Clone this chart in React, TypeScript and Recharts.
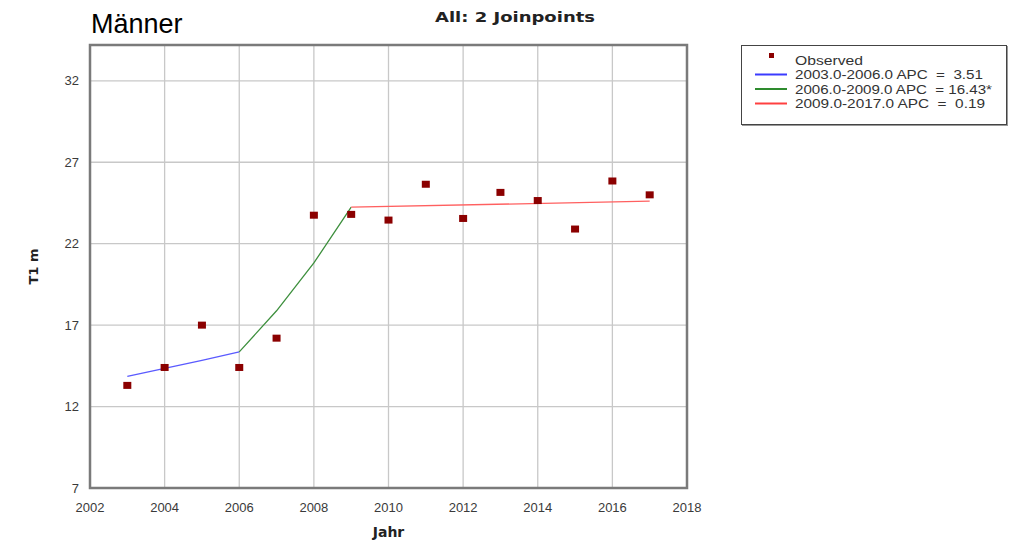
import {
  ComposedChart,
  Line,
  Scatter,
  XAxis,
  YAxis,
  CartesianGrid,
  ReferenceArea,
} from 'recharts';

const years = [2003, 2004, 2005, 2006, 2007, 2008, 2009, 2010, 2011, 2012, 2013, 2014, 2015, 2016, 2017];
const observed = [13.3, 14.4, 17.0, 14.4, 16.2, 23.75, 23.8, 23.45, 25.65, 23.55, 25.15, 24.65, 22.9, 25.85, 25.0];

// joinpoint fitted segments
const seg1Years = [2003, 2004, 2005, 2006];
const seg1Values = [13.85, 14.34, 14.84, 15.36];
const seg2Years = [2006, 2007, 2008, 2009];
const seg2Values = [15.36, 17.88, 20.82, 24.24];
const seg3Years = [2009, 2017];
const seg3Values = [24.24, 24.61];

const xTicks = [2002, 2004, 2006, 2008, 2010, 2012, 2014, 2016, 2018];
const yTicks = [7, 12, 17, 22, 27, 32];

const legendItems = [
  { label: 'Observed', color: '#8b0000', type: 'square', len: 68 },
  { label: '2003.0-2006.0 APC  =  3.51', color: '#3b3bff', type: 'line', len: 188 },
  { label: '2006.0-2009.0 APC  = 16.43*', color: '#2e8b2e', type: 'line', len: 197 },
  { label: '2009.0-2017.0 APC  =  0.19', color: '#ff4040', type: 'line', len: 190 },
];

const observedData = years.map((x, i) => ({ x, y: observed[i] }));
const seg1 = seg1Years.map((x, i) => ({ x, y: seg1Values[i] }));
const seg2 = seg2Years.map((x, i) => ({ x, y: seg2Values[i] }));
const seg3 = seg3Years.map((x, i) => ({ x, y: seg3Values[i] }));

const sans = 'Liberation Sans, Arial, sans-serif';
const boldFont = 'DejaVu Sans, Verdana, sans-serif';
const tickStyle = { fill: '#3a3a3a', fontSize: 13, fontFamily: sans };

const SquareDot = (props: any) => {
  const { cx, cy } = props;
  if (cx == null || cy == null) return null;
  return <rect x={cx - 4} y={cy - 3.5} width={8} height={7} fill="#8b0000" />;
};

// legend box drawn on its own, to the right of the plot
function LegendBox() {
  return (
    <svg width={270} height={84} style={{ position: 'absolute', left: 741, top: 45 }}>
      <rect x={1.5} y={1.5} width={265} height={79} fill="#fff" stroke="#999" strokeWidth={1} />
      <rect x={0.5} y={0.5} width={265} height={79} fill="#fff" stroke="#444" strokeWidth={1} />
      {legendItems.map((item, i) => {
        const cy = 15 + i * 14.5;
        return (
          <g key={`leg-${i}`}>
            {item.type === 'square' ? (
              <rect x={28} y={cy - 7} width={5} height={5} fill={item.color} />
            ) : (
              <line x1={14} x2={46} y1={cy} y2={cy} stroke={item.color} strokeWidth={2} />
            )}
            <text
              x={54}
              y={cy + 4.5}
              fontFamily={sans}
              fontSize={12}
              fill="#333"
              textLength={item.len}
              lengthAdjust="spacingAndGlyphs"
              style={{ whiteSpace: 'pre' }}
            >
              {item.label}
            </text>
          </g>
        );
      })}
    </svg>
  );
}

export default function App() {
  return (
    <div style={{ position: 'absolute', left: 0, top: 0, width: 1027, height: 542, background: '#fff' }}>
      <div
        style={{
          position: 'absolute',
          left: 91,
          top: 9,
          fontFamily: sans,
          fontSize: 27,
          color: '#000',
          whiteSpace: 'nowrap',
        }}
      >
        Männer
      </div>
      <svg width={200} height={30} style={{ position: 'absolute', left: 430, top: 0 }}>
        <text
          x={5}
          y={22}
          fontFamily={boldFont}
          fontWeight="bold"
          fontSize={14}
          fill="#222"
          textLength={160}
          lengthAdjust="spacingAndGlyphs"
        >
          All: 2 Joinpoints
        </text>
      </svg>
      <ComposedChart width={1027} height={542} margin={{ top: 45, right: 340, bottom: 0, left: 0 }}>
        <CartesianGrid stroke="#c8c8c8" strokeWidth={1.3} />
        <XAxis
          type="number"
          dataKey="x"
          domain={[2002, 2018]}
          ticks={xTicks}
          allowDataOverflow
          tickLine={false}
          axisLine={false}
          tickMargin={9}
          tick={tickStyle}
          height={54}
          label={{
            value: 'Jahr',
            position: 'insideBottom',
            offset: 5,
            style: { fontFamily: boldFont, fontWeight: 'bold', fontSize: 14, fill: '#222' },
          }}
        />
        <YAxis
          type="number"
          dataKey="y"
          domain={[7, 34.2]}
          ticks={yTicks}
          allowDataOverflow
          tickLine={false}
          axisLine={false}
          tickMargin={5}
          tick={tickStyle}
          width={90}
          label={{
            value: 'T1 m',
            angle: -90,
            position: 'insideLeft',
            offset: 33,
            style: { textAnchor: 'middle', fontFamily: boldFont, fontWeight: 'bold', fontSize: 13, fill: '#222' },
          }}
        />
        <ReferenceArea x1={2002} x2={2018} y1={7} y2={34.2} fill="none" stroke="#7a7a7a" strokeWidth={2.5} />
        <Line data={seg1} dataKey="y" stroke="#5a5aff" strokeWidth={1.3} dot={false} isAnimationActive={false} />
        <Line data={seg2} dataKey="y" stroke="#3d8f3d" strokeWidth={1.3} dot={false} isAnimationActive={false} />
        <Line data={seg3} dataKey="y" stroke="#ff6060" strokeWidth={1.3} dot={false} isAnimationActive={false} />
        <Scatter data={observedData} dataKey="y" shape={SquareDot} isAnimationActive={false} />
      </ComposedChart>
      <LegendBox />
    </div>
  );
}
